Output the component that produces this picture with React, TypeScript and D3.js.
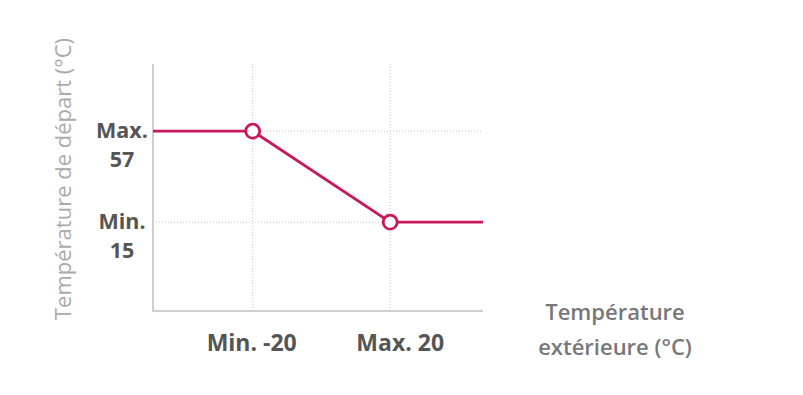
import React, { useEffect, useRef } from 'react';
import * as d3 from 'd3';

// outdoor temperature (°C) -> flow temperature (°C)
const outdoorTemps = [-49, -20, 20, 47];
const flowTemps = [57, 57, 15, 15];
const markerIdx = [1, 2];

const xTickValues = [-20, 20];
const xTickLabels = ['Min. -20', 'Max. 20'];
const yTickValues = [57, 15];
const yTickLabels = [['Max.', '57'], ['Min.', '15']];

const xTitle = ['Température', 'extérieure (°C)'];
const yTitle = 'Température de départ (°C)';

const W = 803;
const H = 395;
const lineColor = '#c8175e';
const font = '"Open Sans", "Noto Sans", sans-serif';

export default function App() {
  const ref = useRef<SVGSVGElement>(null);

  useEffect(() => {
    const svg = d3.select(ref.current);
    svg.selectAll('*').remove();

    const left = 153, right = 483, top = 64, bottom = 311;

    const xScale = d3.scaleLinear().domain([-49, 47]).range([left, right]);
    const yScale = d3.scaleLinear().domain([-26, 88]).range([bottom, top]);

    // grid
    const grid = svg.append('g').attr('stroke', '#c8c8c8').attr('stroke-width', 1).attr('stroke-dasharray', '1,2');
    grid.selectAll('line.v')
      .data(xTickValues)
      .enter().append('line')
      .attr('x1', d => xScale(d)).attr('x2', d => xScale(d))
      .attr('y1', top).attr('y2', bottom);
    grid.selectAll('line.h')
      .data(yTickValues)
      .enter().append('line')
      .attr('x1', left).attr('x2', right)
      .attr('y1', d => yScale(d)).attr('y2', d => yScale(d));

    // axes lines
    svg.append('line')
      .attr('x1', left).attr('x2', left).attr('y1', top).attr('y2', bottom + 1)
      .attr('stroke', '#cfcfcf').attr('stroke-width', 2);
    svg.append('line')
      .attr('x1', left).attr('x2', right).attr('y1', bottom).attr('y2', bottom)
      .attr('stroke', '#cfcfcf').attr('stroke-width', 2);

    // y tick labels
    const yLab = svg.append('g')
      .attr('font-family', font).attr('font-weight', 700).attr('font-size', 21.5)
      .attr('fill', '#555').attr('text-anchor', 'middle');
    yTickValues.forEach((v, i) => {
      yLab.append('text').attr('x', 122).attr('y', yScale(v) + 7).text(yTickLabels[i][0]);
      yLab.append('text').attr('x', 122).attr('y', yScale(v) + 36).text(yTickLabels[i][1]);
    });

    // x tick labels
    const xLab = svg.append('g')
      .attr('font-family', font).attr('font-weight', 700).attr('font-size', 23)
      .attr('fill', '#555').attr('text-anchor', 'middle');
    xTickValues.forEach((v, i) => {
      xLab.append('text').attr('x', xScale(v) + (i === 1 ? 10 : -1)).attr('y', 351).text(xTickLabels[i]);
    });

    // line
    const lineFunc = d3.line<number>()
      .x((d, i) => xScale(outdoorTemps[i]))
      .y(d => yScale(d));
    svg.append('path')
      .attr('d', lineFunc(flowTemps))
      .attr('fill', 'none')
      .attr('stroke', lineColor)
      .attr('stroke-width', 2.8);

    svg.selectAll('circle')
      .data(markerIdx)
      .enter().append('circle')
      .attr('cx', i => xScale(outdoorTemps[i]))
      .attr('cy', i => yScale(flowTemps[i]))
      .attr('r', 7)
      .attr('fill', '#fff')
      .attr('stroke', lineColor)
      .attr('stroke-width', 2.8);

    // axis titles
    const xt = svg.append('text')
      .attr('font-family', font).attr('font-weight', 600).attr('font-size', 22)
      .attr('fill', '#777').attr('text-anchor', 'middle');
    xt.append('tspan').attr('x', 615).attr('y', 320).text(xTitle[0]);
    xt.append('tspan').attr('x', 615).attr('y', 355).text(xTitle[1]);

    svg.append('text')
      .attr('transform', 'translate(71,179) rotate(-90)')
      .attr('font-family', font).attr('font-size', 22)
      .attr('fill', '#aaa').attr('text-anchor', 'middle')
      .text(yTitle);
  }, []);

  return (
    <svg ref={ref} width={W} height={H} style={{ position: 'absolute', left: 0, top: 0, background: '#fff' }} />
  );
}
